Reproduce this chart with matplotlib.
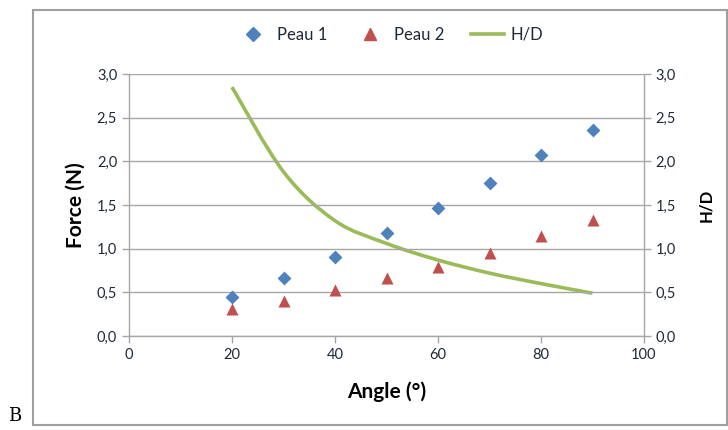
import matplotlib
matplotlib.use("Agg")
import matplotlib.pyplot as plt
from matplotlib.path import Path
from matplotlib.patches import PathPatch, Rectangle
from matplotlib.lines import Line2D
import numpy as np

angles = [20, 30, 40, 50, 60, 70, 80, 90]
peau1 = [0.45, 0.66, 0.91, 1.18, 1.47, 1.75, 2.07, 2.36]
peau2 = [0.31, 0.40, 0.53, 0.66, 0.79, 0.95, 1.14, 1.33]
hd = [2.85, 1.88, 1.32, 1.06, 0.87, 0.72, 0.60, 0.49]
yticks = [0.0, 0.5, 1.0, 1.5, 2.0, 2.5, 3.0]
xticks = [0, 20, 40, 60, 80, 100]

plt.rcParams['font.family'] = ['Lato', 'DejaVu Sans']

fig = plt.figure(figsize=(7.28, 4.30), dpi=100)
W, H = 728, 430

# outer chart border
fig.patches.append(Rectangle((33 / W, 1 - 425 / H), (727 - 33) / W, (425 - 10) / H,
                             transform=fig.transFigure, fill=False,
                             edgecolor='#a0a0a0', linewidth=1.5))
fig.text(8 / W, 1 - 416 / H, 'B', family='DejaVu Serif', fontsize=13, va='center')

left, right = 129 / W, 644 / W
bottom, top = 1 - 336 / H, 1 - 74 / H
ax = fig.add_axes([left, bottom, right - left, top - bottom])
ax2 = ax.twinx()

grid_c = '#a6a6a6'
ax.set_xlim(0, 100)
ax.set_ylim(0, 3.0)
ax2.set_ylim(0, 3.0)
ax.set_yticks(yticks)
ax2.set_yticks(yticks)
ax.set_xticks(xticks)
fmt = lambda v: f"{v:.1f}".replace('.', ',')
ax.set_yticklabels([fmt(v) for v in yticks])
ax2.set_yticklabels([fmt(v) for v in yticks])
ax.set_xticklabels([str(v) for v in xticks])

for a in (ax, ax2):
    a.spines['top'].set_visible(False)
    for s in ('left', 'right', 'bottom'):
        a.spines[s].set_color(grid_c)
        a.spines[s].set_linewidth(1.0)
    a.tick_params(direction='out', length=5, color=grid_c, labelsize=10.5,
                  labelcolor='#1f2a38', width=1.0)
ax.spines['right'].set_visible(False)
ax2.spines['left'].set_visible(False)
ax2.spines['bottom'].set_visible(False)
ax.yaxis.grid(True, color=grid_c, linewidth=1.0)
ax.set_axisbelow(True)

ax.set_ylabel('Force (N)', fontsize=15, fontweight='bold', labelpad=8)
ax.set_xlabel('Angle (°)', fontsize=15, fontweight='bold', labelpad=14)
ax2.set_ylabel('H/D', fontsize=12, fontweight='bold', labelpad=16)

blue, red, green = '#4F81BD', '#C0504D', '#9BBB59'

# smoothed H/D line (Excel-style Catmull-Rom Bezier)
x = np.array(angles, float)
y = np.array(hd, float)
verts = [(x[0], y[0])]
codes = [Path.MOVETO]
n = len(x)
for i in range(n - 1):
    p0 = (x[i - 1], y[i - 1]) if i > 0 else (x[i], y[i])
    p1 = (x[i], y[i])
    p2 = (x[i + 1], y[i + 1])
    p3 = (x[i + 2], y[i + 2]) if i + 2 < n else (x[i + 1], y[i + 1])
    t = 1 / 6
    c1 = (p1[0] + (p2[0] - p0[0]) * t, p1[1] + (p2[1] - p0[1]) * t)
    c2 = (p2[0] - (p3[0] - p1[0]) * t, p2[1] - (p3[1] - p1[1]) * t)
    verts += [c1, c2, p2]
    codes += [Path.CURVE4] * 3
ax2.add_patch(PathPatch(Path(verts, codes), fill=False, edgecolor=green,
                        linewidth=2.6, capstyle='butt', zorder=3))

ax.scatter(angles, peau1, marker='D', s=50, color=blue, zorder=4, linewidths=0)
ax.scatter(angles, peau2, marker='^', s=75, color=red, zorder=4, linewidths=0)
ax2.set_zorder(ax.get_zorder() - 1)
ax.patch.set_visible(False)

handles = [Line2D([], [], marker='D', color=blue, linestyle='none', markersize=7),
           Line2D([], [], marker='^', color=red, linestyle='none', markersize=9),
           Line2D([], [], color=green, linewidth=2.6)]
fig.legend(handles, ['Peau 1', 'Peau 2', 'H/D'], loc='center',
           bbox_to_anchor=(390 / W, 1 - 35 / H), ncol=3, frameon=False,
           fontsize=12, handlelength=2.0, columnspacing=1.6, handletextpad=0.4,
           labelcolor='#1f2a38')

fig.savefig('out.png', dpi=100)
